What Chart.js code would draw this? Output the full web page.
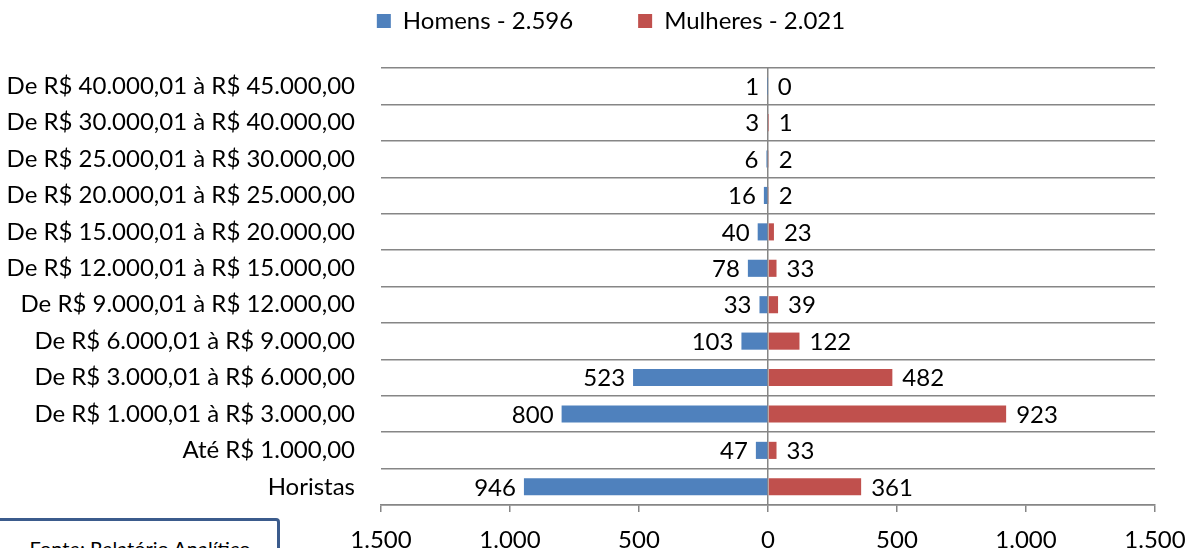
<!DOCTYPE html>
<html>
<head>
<meta charset="utf-8">
<script src="https://cdn.jsdelivr.net/npm/chart.js@4.4.1/dist/chart.umd.min.js"></script>
<style>
  html, body { margin: 0; padding: 0; background: #fff; overflow: hidden; }
  #wrap { position: relative; width: 1190px; height: 548px; }
  #fonte { position: absolute; left: -10px; top: 518px; width: 290px; height: 60px;
    border: 3px solid #3B5B8C; border-radius: 4px; background: #fff;
    font-family: Lato, sans-serif; font-size: 20px; color: #000; text-align: center;
    padding-top: 15px; box-sizing: border-box; padding-left: 10px; white-space: nowrap; }
</style>
</head>
<body>
<div id="wrap">
  <canvas id="c" width="1190" height="548"></canvas>
  <div id="fonte">Fonte: Relatório Analítico</div>
</div>
<script>
const categories = [
  "De R$ 40.000,01 à R$ 45.000,00",
  "De R$ 30.000,01 à R$ 40.000,00",
  "De R$ 25.000,01 à R$ 30.000,00",
  "De R$ 20.000,01 à R$ 25.000,00",
  "De R$ 15.000,01 à R$ 20.000,00",
  "De R$ 12.000,01 à R$ 15.000,00",
  "De R$ 9.000,01 à R$ 12.000,00",
  "De R$ 6.000,01 à R$ 9.000,00",
  "De R$ 3.000,01 à R$ 6.000,00",
  "De R$ 1.000,01 à R$ 3.000,00",
  "Até R$ 1.000,00",
  "Horistas"
];
const homens = [1, 3, 6, 16, 40, 78, 33, 103, 523, 800, 47, 946];
const mulheres = [0, 1, 2, 2, 23, 33, 39, 122, 482, 923, 33, 361];
const seriesNames = ["Homens - 2.596", "Mulheres - 2.021"];
const xTicks = [-1500, -1000, -500, 0, 500, 1000, 1500];

const FONT = "Lato";
const FS = 24;
const LEGEND_PAD = 65;
Chart.defaults.color = "#000";
Chart.defaults.font.family = FONT;

function fmt(v) {
  return Math.abs(v).toString().replace(/\B(?=(\d{3})+(?!\d))/g, ".");
}

const labelPlugin = {
  id: "barLabels",
  afterDatasetsDraw(chart) {
    const ctx = chart.ctx;
    ctx.save();
    ctx.font = FS + "px " + FONT;
    ctx.fillStyle = "#000";
    ctx.textBaseline = "middle";
    chart.data.datasets.forEach((ds, di) => {
      const meta = chart.getDatasetMeta(di);
      meta.data.forEach((bar, i) => {
        const v = ds.data[i];
        if (di === 0) {
          ctx.textAlign = "right";
          ctx.fillText(fmt(v), Math.min(bar.x, bar.base) - 8, bar.y + 1);
        } else {
          ctx.textAlign = "left";
          ctx.fillText(fmt(v), Math.max(bar.x, bar.base) + 10, bar.y + 1);
        }
      });
    });
    ctx.restore();
  }
};

const legendPlacer = {
  id: "legendPlacer",
  beforeLayout(chart) {
    const lg = chart.legend;
    if (lg && !lg._patched) {
      const orig = lg.fit.bind(lg);
      lg.fit = function () { orig(); this.height = 68; };
      lg._patched = true;
    }
  },
  afterLayout(chart) {
    const lg = chart.legend;
    if (lg) {
      lg.top = 9 - LEGEND_PAD;
      const shift = 611 - (lg.left + lg.right) / 2;
      lg.left += shift; lg.right += shift;
    }
  }
};

new Chart(document.getElementById("c"), {
  type: "bar",
  data: {
    labels: categories,
    datasets: [
      { label: seriesNames[0], data: homens.map(v => -v), backgroundColor: "#4F81BD",
        barPercentage: 0.47, categoryPercentage: 1 },
      { label: seriesNames[1], data: mulheres, backgroundColor: "#C0504D",
        barPercentage: 0.47, categoryPercentage: 1 }
    ]
  },
  options: {
    indexAxis: "y",
    responsive: false,
    animation: false,
    layout: { padding: { left: 0, right: 35, top: 0, bottom: 0 } },
    plugins: {
      legend: {
        position: "top",
        labels: { boxWidth: 14, boxHeight: 14, font: { size: FS, family: FONT }, padding: LEGEND_PAD, color: "#000" }
      },
      tooltip: { enabled: false }
    },
    scales: {
      x: {
        stacked: true,
        min: -1500, max: 1500,
        afterBuildTicks(scale) { scale.ticks = xTicks.map(v => ({ value: v })); },
        afterFit(scale) { scale.height = 43; scale.paddingLeft = 0; scale.paddingRight = 0; },
        ticks: { callback: v => fmt(v), font: { size: FS, family: FONT }, padding: 14, maxRotation: 0, color: "#000" },
        grid: {
          color: c => (c.tick && c.tick.value === 0) ? "#868686" : "rgba(0,0,0,0)",
          tickColor: "#868686", tickLength: 7, lineWidth: 1.5
        },
        border: { display: true, color: "#868686", width: 1.5 }
      },
      y: {
        stacked: true,
        afterFit(scale) { scale.width = 381; },
        ticks: { font: { size: FS, family: FONT }, padding: 26, color: "#000" },
        grid: { offset: true, color: "#868686", lineWidth: 1.5, drawTicks: false },
        border: { display: false }
      }
    }
  },
  plugins: [labelPlugin, legendPlacer]
});
</script>
</body>
</html>
